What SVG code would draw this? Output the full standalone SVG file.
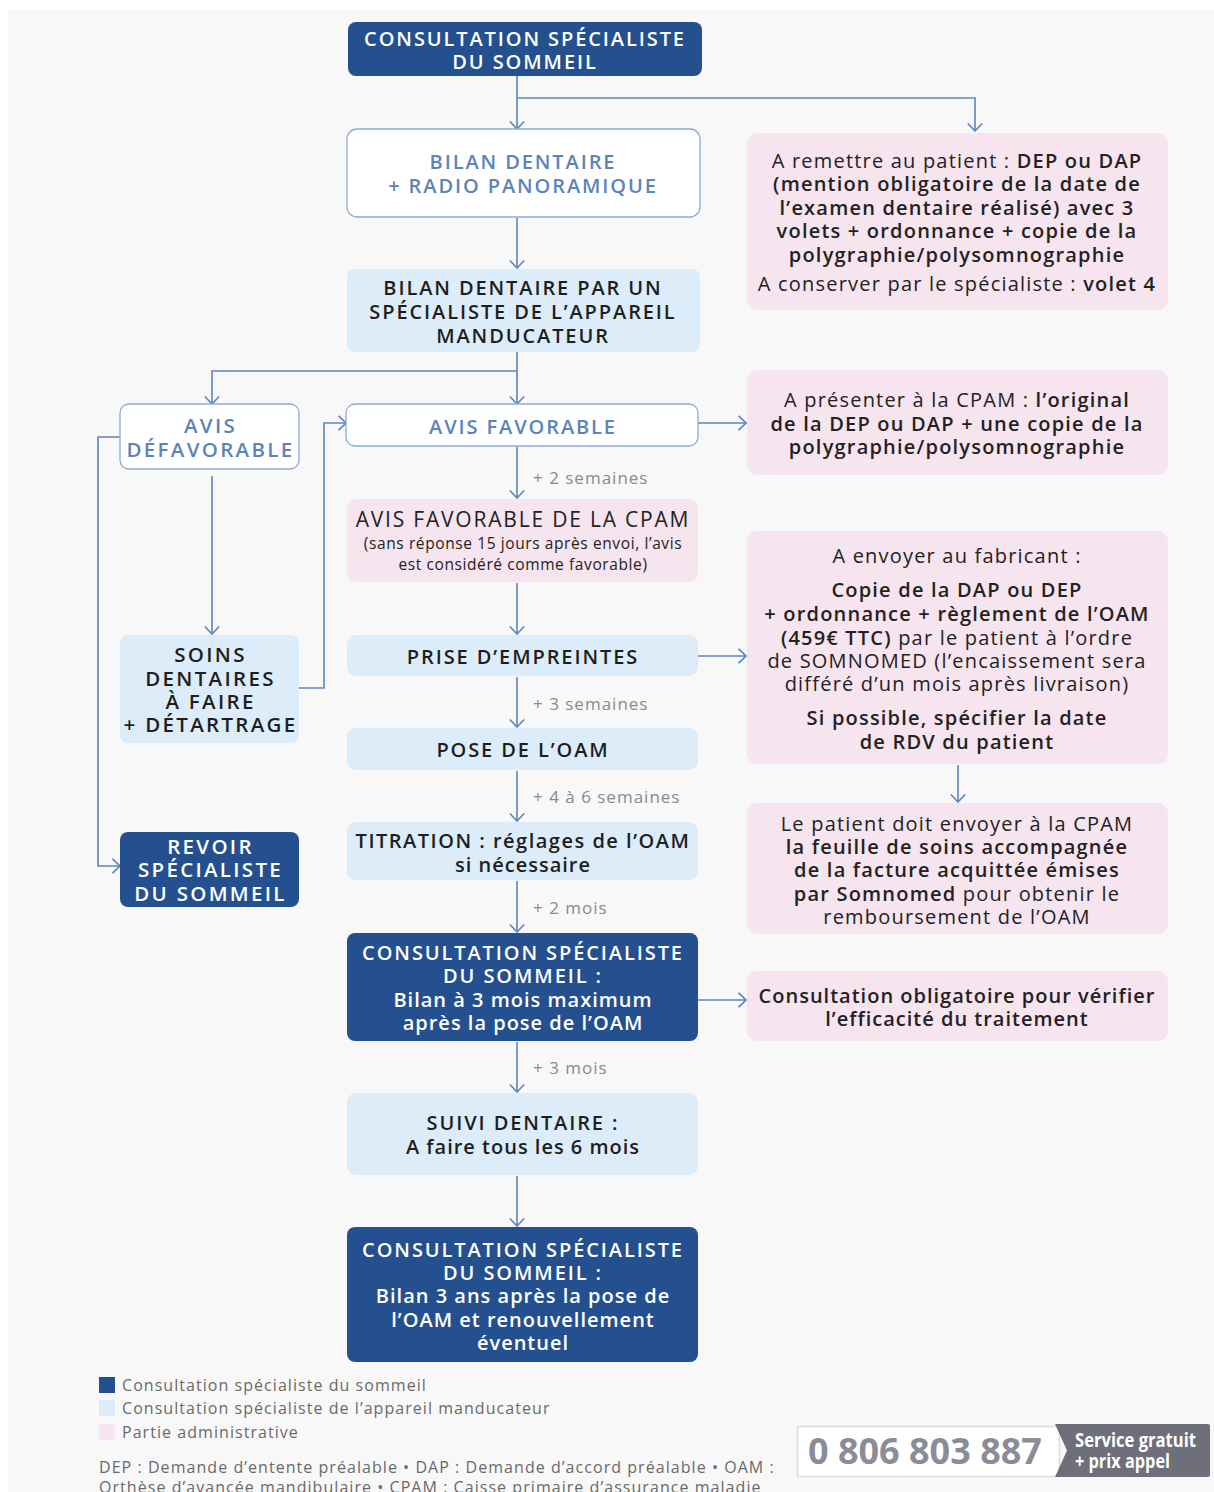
<svg xmlns="http://www.w3.org/2000/svg" width="1214" height="1492" viewBox="0 0 1214 1492">
<defs>
<style>
text{font-family:"Open Sans","Noto Sans","Liberation Sans",sans-serif;}
.dark rect{fill:#24508f;}
.dark text{fill:#ffffff;font-weight:600;font-size:20px;text-anchor:middle;letter-spacing:1px;}
.out rect{fill:#ffffff;stroke:#8eaad2;stroke-width:1.3;}
.out text{fill:#5b84b8;font-weight:600;font-size:20px;text-anchor:middle;letter-spacing:1px;}
.lb rect{fill:#dcecf9;}
.lb text{fill:#1e1e1e;font-weight:600;font-size:20px;text-anchor:middle;letter-spacing:1px;}
.dark text.u,.out text.u,.lb text.u{letter-spacing:1.9px;}
.dark text.s,.out text.s,.lb text.s{font-size:20.5px;letter-spacing:2.3px;}
.pk rect{fill:#f6e4ee;}
.pk text{fill:#222222;font-size:20px;text-anchor:middle;letter-spacing:1.2px;}
.b{font-weight:600;}
.tm{fill:#8a8a8a;font-size:17px;letter-spacing:1px;}
.lg{fill:#6a6a6a;font-size:16px;letter-spacing:1.05px;}
#connectors path{fill:none;stroke:#5b86bb;stroke-width:1.6;}
</style>
<marker id="arr" viewBox="0 0 9 16" refX="8" refY="8" markerWidth="9" markerHeight="16" markerUnits="userSpaceOnUse" orient="auto">
<path d="M0.5,0.8 L8,8 L0.5,15.2" fill="none" stroke="#5b86bb" stroke-width="1.6"/>
</marker>
</defs>
<rect x="0" y="0" width="1214" height="1492" fill="#ffffff"/>
<rect x="8" y="9" width="1206" height="1483" fill="#f8f8f8"/>

<g id="connectors">
<path d="M517,76 V129" marker-end="url(#arr)"/>
<path d="M517,98 H975 V131" marker-end="url(#arr)"/>
<path d="M517,218 V268" marker-end="url(#arr)"/>
<path d="M517,352 V404" marker-end="url(#arr)"/>
<path d="M517,371 H212 V404" marker-end="url(#arr)"/>
<path d="M698,423 H746" marker-end="url(#arr)"/>
<path d="M212,476 V634" marker-end="url(#arr)"/>
<path d="M120,437 H98 V866 H120" marker-end="url(#arr)"/>
<path d="M299,688 H324 V423 H346" marker-end="url(#arr)"/>
<path d="M517,447 V498" marker-end="url(#arr)"/>
<path d="M517,583 V634" marker-end="url(#arr)"/>
<path d="M698,656 H746" marker-end="url(#arr)"/>
<path d="M517,677 V727" marker-end="url(#arr)"/>
<path d="M517,771 V821" marker-end="url(#arr)"/>
<path d="M958,765 V802" marker-end="url(#arr)"/>
<path d="M517,881 V932" marker-end="url(#arr)"/>
<path d="M698,1000 H746" marker-end="url(#arr)"/>
<path d="M517,1042 V1092" marker-end="url(#arr)"/>
<path d="M517,1176 V1226" marker-end="url(#arr)"/>
</g>

<g id="timings">
<text class="tm" x="533" y="484">+ 2 semaines</text>
<text class="tm" x="533" y="710">+ 3 semaines</text>
<text class="tm" x="533" y="803">+ 4 à 6 semaines</text>
<text class="tm" x="533" y="914">+ 2 mois</text>
<text class="tm" x="533" y="1074">+ 3 mois</text>
</g>

<g id="n-consult-top" class="dark">
<rect x="348" y="22" width="354" height="54" rx="8"/>
<text class="u" x="525" y="46">CONSULTATION SPÉCIALISTE</text>
<text class="u" x="525" y="69">DU SOMMEIL</text>
</g>

<g id="n-bilan" class="out">
<rect x="347" y="129" width="353" height="88" rx="10"/>
<text class="u" x="523" y="169">BILAN DENTAIRE</text>
<text class="u" x="523" y="193">+ RADIO PANORAMIQUE</text>
</g>

<g id="n-remettre" class="pk">
<rect x="747" y="133" width="421" height="177" rx="10"/>
<text x="957" y="168">A remettre au patient : <tspan class="b">DEP ou DAP</tspan></text>
<text x="957" y="191" class="b">(mention obligatoire de la date de</text>
<text x="957" y="215" class="b">l’examen dentaire réalisé) avec 3</text>
<text x="957" y="238" class="b">volets + ordonnance + copie de la</text>
<text x="957" y="262" class="b">polygraphie/polysomnographie</text>
<text x="957" y="291">A conserver par le spécialiste : <tspan class="b">volet 4</tspan></text>
</g>

<g id="n-bilan-spec" class="lb">
<rect x="347" y="269" width="353" height="83" rx="8"/>
<text class="u" x="523" y="295">BILAN DENTAIRE PAR UN</text>
<text class="u" x="523" y="319">SPÉCIALISTE DE L’APPAREIL</text>
<text class="u" x="523" y="343">MANDUCATEUR</text>
</g>

<g id="n-defavorable" class="out">
<rect x="120" y="404" width="179" height="65" rx="9"/>
<text class="s" x="210.5" y="433">AVIS</text>
<text class="s" x="210.5" y="457">DÉFAVORABLE</text>
</g>

<g id="n-favorable" class="out">
<rect x="346" y="404" width="352" height="42" rx="9"/>
<text class="u" x="523" y="434">AVIS FAVORABLE</text>
</g>

<g id="n-presenter" class="pk">
<rect x="747" y="370" width="421" height="105" rx="10"/>
<text x="957" y="407">A présenter à la CPAM : <tspan class="b">l’original</tspan></text>
<text x="957" y="431" class="b">de la DEP ou DAP + une copie de la</text>
<text x="957" y="454" class="b">polygraphie/polysomnographie</text>
</g>

<g id="n-cpam" class="pk">
<rect x="347" y="499" width="351" height="83" rx="9"/>
<text x="523" y="527" style="font-size:21px;font-weight:500;letter-spacing:1.8px">AVIS FAVORABLE DE LA CPAM</text>
<text x="523" y="549" style="font-size:15.5px;letter-spacing:0.6px">(sans réponse 15 jours après envoi, l’avis</text>
<text x="523" y="570" style="font-size:15.5px;letter-spacing:0.6px">est considéré comme favorable)</text>
</g>

<g id="n-fabricant" class="pk">
<rect x="747" y="531" width="421" height="233" rx="10"/>
<text x="957" y="563">A envoyer au fabricant :</text>
<text x="957" y="597" class="b">Copie de la DAP ou DEP</text>
<text x="957" y="621" class="b">+ ordonnance + règlement de l’OAM</text>
<text x="957" y="645"><tspan class="b">(459€ TTC)</tspan> par le patient à l’ordre</text>
<text x="957" y="668">de SOMNOMED (l’encaissement sera</text>
<text x="957" y="691">différé d’un mois après livraison)</text>
<text x="957" y="725" class="b">Si possible, spécifier la date</text>
<text x="957" y="749" class="b">de RDV du patient</text>
</g>

<g id="n-soins" class="lb">
<rect x="120" y="635" width="179" height="108" rx="8"/>
<text class="s" x="210.5" y="662">SOINS</text>
<text class="s" x="210.5" y="686">DENTAIRES</text>
<text class="s" x="210.5" y="709">À FAIRE</text>
<text class="s" x="210.5" y="732">+ DÉTARTRAGE</text>
</g>

<g id="n-empreintes" class="lb">
<rect x="347" y="635" width="351" height="41" rx="9"/>
<text class="u" x="523" y="664">PRISE D’EMPREINTES</text>
</g>

<g id="n-pose" class="lb">
<rect x="347" y="728" width="351" height="42" rx="9"/>
<text class="u" x="523" y="757">POSE DE L’OAM</text>
</g>

<g id="n-titration" class="lb">
<rect x="347" y="822" width="351" height="58" rx="9"/>
<text x="523" y="848" style="letter-spacing:1.5px">TITRATION : réglages de l’OAM</text>
<text x="523" y="872">si nécessaire</text>
</g>

<g id="n-revoir" class="dark">
<rect x="120" y="832" width="179" height="75" rx="8"/>
<text class="s" x="210.5" y="854">REVOIR</text>
<text class="s" x="210.5" y="877">SPÉCIALISTE</text>
<text class="s" x="210.5" y="901">DU SOMMEIL</text>
</g>

<g id="n-patient-cpam" class="pk">
<rect x="747" y="803" width="421" height="131" rx="10"/>
<text x="957" y="831">Le patient doit envoyer à la CPAM</text>
<text x="957" y="854" class="b">la feuille de soins accompagnée</text>
<text x="957" y="877" class="b">de la facture acquittée émises</text>
<text x="957" y="901"><tspan class="b">par Somnomed</tspan> pour obtenir le</text>
<text x="957" y="924">remboursement de l’OAM</text>
</g>

<g id="n-consult-3mois" class="dark">
<rect x="347" y="933" width="351" height="108" rx="8"/>
<text class="u" x="523" y="960">CONSULTATION SPÉCIALISTE</text>
<text class="u" x="523" y="983">DU SOMMEIL :</text>
<text x="523" y="1007">Bilan à 3 mois maximum</text>
<text x="523" y="1030">après la pose de l’OAM</text>
</g>

<g id="n-obligatoire" class="pk">
<rect x="747" y="971" width="421" height="70" rx="10"/>
<text x="957" y="1003" class="b" style="letter-spacing:1px">Consultation obligatoire pour vérifier</text>
<text x="957" y="1026" class="b" style="letter-spacing:1px">l’efficacité du traitement</text>
</g>

<g id="n-suivi" class="lb">
<rect x="347" y="1093" width="351" height="82" rx="9"/>
<text class="u" x="523" y="1130">SUIVI DENTAIRE :</text>
<text x="523" y="1154">A faire tous les 6 mois</text>
</g>

<g id="n-consult-3ans" class="dark">
<rect x="347" y="1227" width="351" height="135" rx="8"/>
<text class="u" x="523" y="1257">CONSULTATION SPÉCIALISTE</text>
<text class="u" x="523" y="1280">DU SOMMEIL :</text>
<text x="523" y="1303">Bilan 3 ans après la pose de</text>
<text x="523" y="1327">l’OAM et renouvellement</text>
<text x="523" y="1350">éventuel</text>
</g>

<g id="legend">
<rect x="99" y="1377" width="16" height="16" fill="#24508f"/>
<rect x="99" y="1400" width="16" height="16" fill="#dcecf9"/>
<rect x="99" y="1424" width="16" height="16" fill="#f6e4ee"/>
<text class="lg" x="122" y="1391">Consultation spécialiste du sommeil</text>
<text class="lg" x="122" y="1414">Consultation spécialiste de l’appareil manducateur</text>
<text class="lg" x="122" y="1438">Partie administrative</text>
<text class="lg" x="99" y="1473">DEP : Demande d’entente préalable • DAP : Demande d’accord préalable • OAM :</text>
<text class="lg" x="99" y="1493">Orthèse d’avancée mandibulaire • CPAM : Caisse primaire d’assurance maladie</text>
</g>

<g id="phone">
<rect x="797.5" y="1426.5" width="262" height="50" fill="#ffffff" stroke="#dcdcdc" stroke-width="1.5"/>
<text x="808" y="1464" style="font-size:36px;font-weight:700;fill:#8a8c98">0 806 803 887</text>
<path d="M1055,1424 H1208 Q1210,1424 1210,1426 V1475 Q1210,1477 1208,1477 H1055 L1067,1450.5 Z" fill="#6e6f7a"/>
<text x="1075" y="1447" textLength="121" lengthAdjust="spacingAndGlyphs" style="font-size:19px;font-weight:700;fill:#ffffff">Service gratuit</text>
<text x="1075" y="1468" textLength="95" lengthAdjust="spacingAndGlyphs" style="font-size:19px;font-weight:700;fill:#ffffff">+ prix appel</text>
</g>
</svg>
